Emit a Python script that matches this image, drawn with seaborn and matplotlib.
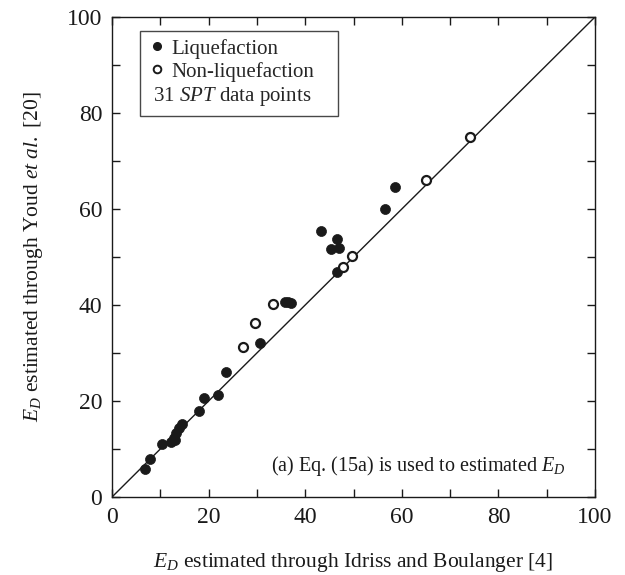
import numpy as np
import pandas as pd
import matplotlib
matplotlib.use("Agg")
import matplotlib.pyplot as plt
from matplotlib.lines import Line2D
import seaborn as sns

# Liquefaction cases (filled)
liq_x = [6.8, 7.9, 10.4, 12.2, 12.8, 13.0, 13.2, 13.8, 14.5, 18.0, 19.0, 21.9, 23.5,
         30.6, 35.8, 36.4, 37.0, 43.2, 45.3, 46.5, 46.9, 46.5, 56.5, 58.6]
liq_y = [5.8, 8.0, 11.0, 11.4, 12.2, 11.8, 13.3, 14.3, 15.2, 18.0, 20.6, 21.3, 26.1,
         32.1, 40.6, 40.6, 40.5, 55.4, 51.6, 53.75, 51.9, 46.8, 59.9, 64.5]
# Non-liquefaction cases (open)
non_x = [27.1, 29.7, 33.4, 47.9, 49.6, 65.0, 74.1]
non_y = [31.2, 36.3, 40.3, 47.9, 50.3, 66.0, 74.9]

line_x = [0, 100]
ticks = [0, 20, 40, 60, 80, 100]

sns.set_style("ticks")
plt.rcParams['font.family'] = ['Liberation Serif', 'DejaVu Serif']
plt.rcParams['mathtext.fontset'] = 'custom'
plt.rcParams['mathtext.rm'] = 'Liberation Serif'
plt.rcParams['mathtext.it'] = 'Liberation Serif:italic'

fig = plt.figure(figsize=(6.25, 5.75), dpi=100)
ax = fig.add_axes([112/625, 1-497/575, (595-112)/625, (497-17)/575])

df_l = pd.DataFrame({"x": liq_x, "y": liq_y})
df_n = pd.DataFrame({"x": non_x, "y": non_y})

sns.lineplot(x=line_x, y=line_x, ax=ax, color="#1a1a1a", lw=1.0, zorder=1)
sns.scatterplot(data=df_l, x="x", y="y", ax=ax, color="#1a1a1a", s=52,
                edgecolor="#1a1a1a", linewidth=0.5, zorder=3)
sns.scatterplot(data=df_n, x="x", y="y", ax=ax, facecolor="white", s=42,
                edgecolor="#1a1a1a", linewidth=1.6, zorder=3)

ax.set_xlim(0, 100)
ax.set_ylim(0, 100)
ax.set_xticks(ticks)
ax.set_yticks(ticks)
ax.set_xticks(np.arange(10, 100, 20), minor=True)
ax.set_yticks(np.arange(10, 100, 20), minor=True)
ax.tick_params(which='both', direction='in', top=True, right=True, length=6,
               width=1.0, color="#1a1a1a")
ax.tick_params(which='major', labelsize=17, pad=7, labelcolor="#1a1a1a")
for sp in ax.spines.values():
    sp.set_linewidth(1.0)
    sp.set_color("#1a1a1a")

ax.set_xlabel(r"$E_D$ estimated through Idriss and Boulanger [4]", fontsize=15.5,
              labelpad=17, color="#1a1a1a")
ax.set_ylabel(r"$E_D$ estimated through Youd $et\ al.$ [20]", fontsize=15.5,
              labelpad=16, color="#1a1a1a")

ax.text(0.94, 0.055, r"(a) Eq. (15a) is used to estimated $E_D$", transform=ax.transAxes,
        ha='right', va='baseline', fontsize=14.5, color="#1a1a1a")

handles = [
    Line2D([], [], ls='none', marker='o', color="#1a1a1a", markersize=5.5),
    Line2D([], [], ls='none', marker='o', markerfacecolor='white',
           markeredgecolor="#1a1a1a", markeredgewidth=1.4, markersize=5.5),
    Line2D([], [], ls='none', marker=None),
]
labels = ["Liquefaction", "Non-liquefaction", r"31 $SPT$ data points"]
leg = ax.legend(handles, labels, loc='upper left', bbox_to_anchor=(0.057, 0.971),
                fontsize=15, frameon=True, fancybox=False, edgecolor="#1a1a1a",
                handlelength=0.9, handletextpad=0.25, borderpad=0.38,
                labelspacing=0.15, borderaxespad=0)
leg.get_frame().set_linewidth(1.0)
leg.get_texts()[2].set_x(-18)

fig.savefig("out.png", dpi=100, facecolor="white")
